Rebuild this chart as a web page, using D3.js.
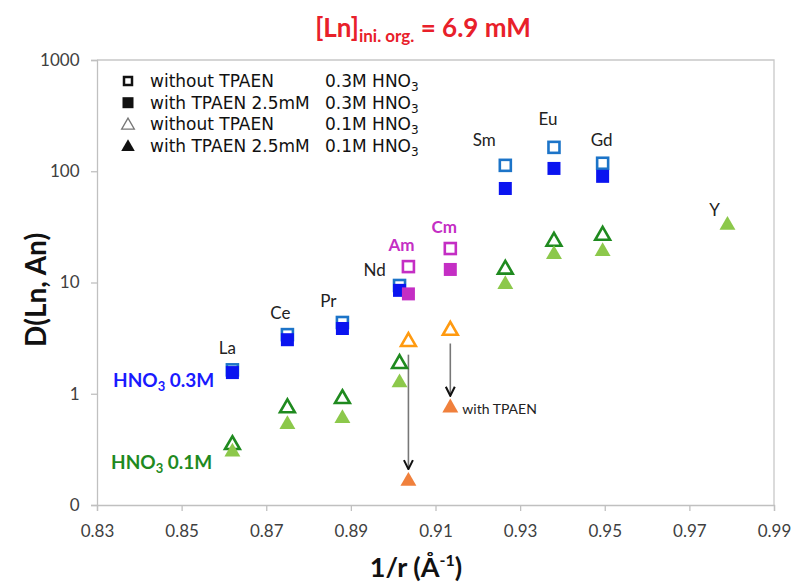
<!DOCTYPE html>
<html>
<head>
<meta charset="utf-8">
<script src="https://cdn.jsdelivr.net/npm/d3@7"></script>
<style>
  body { margin: 0; background: #fff; }
  svg { font-family: Lato, "Open Sans", sans-serif; }
</style>
</head>
<body>
<svg width="794" height="585"></svg>
<script>
// lanthanides
const lnNames = ['La', 'Ce', 'Pr', 'Nd', 'Sm', 'Eu', 'Gd'];
const lnInvR = [0.862, 0.875, 0.888, 0.9015, 0.9265, 0.938, 0.9495];
const lnOpen03 = [1.64, 3.4, 4.37, 9.4, 113, 164, 118];
const lnFill03 = [1.55, 3.06, 3.86, 8.5, 70, 106, 90];
const lnOpen01 = [0.355, 0.76, 0.92, 1.9, 13.4, 23.9, 27];
const lnFill01 = [0.30, 0.53, 0.60, 1.26, 9.6, 17.9, 19];
// yttrium
const yInvR = [0.979];
const yFill01 = [32.7];
// actinides
const anNames = ['Am', 'Cm'];
const anInvR = [0.9036, 0.9135];
const anOpen03 = [13.9, 20.2];
const anFill03 = [7.9, 13.1];
const anOpen01 = [3.0, 3.78];
const anFill01 = [0.164, 0.748];

const xTicks = [0.83, 0.85, 0.87, 0.89, 0.91, 0.93, 0.95, 0.97, 0.99];
const yTicks = [0.1, 1, 10, 100, 1000];

const svg = d3.select('svg');
const pLeft = 97, pRight = 774, pTop = 60, pBottom = 505;

const x = d3.scaleLinear().domain([0.83, 0.99]).range([pLeft, pRight]);
const y = d3.scaleLog().domain([0.1, 1000]).range([pBottom, pTop]);

// frame (top + right)
svg.append('path')
    .attr('d', `M${pLeft},${pTop}H${pRight}V${pBottom}`)
    .attr('fill', 'none')
    .attr('stroke', '#c8c8c8')
    .attr('stroke-width', 1.3);

const xAxis = svg.append('g')
    .attr('transform', `translate(0,${pBottom})`)
    .call(d3.axisBottom(x).tickValues(xTicks).tickSize(6).tickFormat(d3.format('.2f')));
const yAxis = svg.append('g')
    .attr('transform', `translate(${pLeft},0)`)
    .call(d3.axisLeft(y).tickValues(yTicks).tickSize(6)
      .tickFormat(d => d < 1 ? '0' : String(d)));

[xAxis, yAxis].forEach(g => {
  g.select('.domain').attr('stroke', '#c0c0c0').attr('stroke-width', 1.3);
  g.selectAll('.tick line').attr('stroke', '#c0c0c0').attr('stroke-width', 1.3);
  g.selectAll('.tick text').attr('fill', '#404040').style('font-size', '17px')
    .style('font-family', 'Lato, sans-serif');
});
xAxis.selectAll('.tick text').attr('dy', '1.35em');
yAxis.selectAll('.tick text').attr('dx', '-0.5em');

// titles
svg.append('text')
    .attr('x', 423).attr('y', 37)
    .attr('text-anchor', 'middle')
    .attr('fill', '#e8202a')
    .style('font-size', '26px').style('font-weight', 'bold')
    .html('[Ln]<tspan font-size="17" dy="5">ini. org.</tspan><tspan dy="-5"> = 6.9 mM</tspan>');

svg.append('text')
    .attr('transform', 'translate(46,290) rotate(-90)')
    .attr('text-anchor', 'middle')
    .attr('fill', '#111')
    .style('font-size', '28px').style('font-weight', 'bold')
    .text('D(Ln, An)');

svg.append('text')
    .attr('x', 416).attr('y', 577)
    .attr('text-anchor', 'middle')
    .attr('fill', '#111')
    .style('font-size', '27px').style('font-weight', 'bold')
    .html('1/r (Å<tspan font-size="16" dy="-11">-1</tspan><tspan dy="11">)</tspan>');

// marker helpers
const sq = 13, tri = d3.symbol().type(d3.symbolTriangle).size(110);

function openSquares(xs, vs, color) {
  svg.append('g').selectAll('rect').data(xs).join('rect')
      .attr('x', (d, i) => x(d) - sq / 2 + 1)
      .attr('y', (d, i) => y(vs[i]) - sq / 2 + 1)
      .attr('width', sq - 2).attr('height', sq - 2)
      .attr('fill', 'none').attr('stroke', color).attr('stroke-width', 2.6);
}
function fillSquares(xs, vs, color) {
  svg.append('g').selectAll('rect').data(xs).join('rect')
      .attr('x', (d, i) => x(d) - sq / 2)
      .attr('y', (d, i) => y(vs[i]) - sq / 2)
      .attr('width', sq).attr('height', sq)
      .attr('fill', color);
}
function openTris(xs, vs, color) {
  svg.append('g').selectAll('path').data(xs).join('path')
      .attr('d', d3.symbol().type(d3.symbolTriangle).size(95))
      .attr('transform', (d, i) => `translate(${x(d)},${y(vs[i]) + 1})`)
      .attr('fill', 'none').attr('stroke', color).attr('stroke-width', 2.6);
}
function fillTris(xs, vs, color) {
  svg.append('g').selectAll('path').data(xs).join('path')
      .attr('d', tri)
      .attr('transform', (d, i) => `translate(${x(d)},${y(vs[i])})`)
      .attr('fill', color);
}

// arrows open -> filled (actinides, 0.1M)
svg.append('defs').append('marker')
    .attr('id', 'arr').attr('viewBox', '0 0 10 10')
    .attr('refX', 9).attr('refY', 5)
    .attr('markerWidth', 7).attr('markerHeight', 7)
    .attr('orient', 'auto')
  .append('path').attr('d', 'M1,1L9,5L1,9').attr('fill', 'none')
    .attr('stroke', '#111').attr('stroke-width', 1.8);

svg.append('g').selectAll('line').data(anInvR).join('line')
    .attr('x1', d => x(d)).attr('x2', d => x(d))
    .attr('y1', (d, i) => y(anOpen01[i]) + 14)
    .attr('y2', (d, i) => y(anFill01[i]) - 12)
    .attr('stroke', '#777').attr('stroke-width', 1.6)
    .attr('marker-end', 'url(#arr)');

openTris(lnInvR, lnOpen01, '#1f8a1f');
fillTris(lnInvR, lnFill01, '#8cc84b');
fillTris(yInvR, yFill01, '#8cc84b');
openTris(anInvR, anOpen01, '#ff9a10');
fillTris(anInvR, anFill01, '#f0803c');

openSquares(lnInvR, lnOpen03, '#1c74c8');
fillSquares(lnInvR, lnFill03, '#0a14f0');
openSquares(anInvR, anOpen03, '#c42ec4');
fillSquares(anInvR, anFill03, '#c42ec4');

// element labels
const lnLabelDx = [-5, -7, -14, -25, -21, -6, -1];
const lnLabelDy = [-22, -22, -21, -15, -25, -28, -23];
const anLabelDx = [-7, -6];
const anLabelDy = [-22, -22];

svg.append('g').selectAll('text').data(lnNames).join('text')
    .attr('x', (d, i) => x(lnInvR[i]) + lnLabelDx[i])
    .attr('y', (d, i) => y(lnOpen03[i]) + lnLabelDy[i] + 6)
    .attr('text-anchor', 'middle').attr('fill', '#222')
    .style('font-size', '17px').text(d => d);

svg.append('text')
    .attr('x', x(yInvR[0]) - 13).attr('y', y(yFill01[0]) - 9)
    .attr('text-anchor', 'middle').attr('fill', '#222')
    .style('font-size', '17px').text('Y');

svg.append('g').selectAll('text').data(anNames).join('text')
    .attr('x', (d, i) => x(anInvR[i]) + anLabelDx[i])
    .attr('y', (d, i) => y(anOpen03[i]) + anLabelDy[i] + 6)
    .attr('text-anchor', 'middle').attr('fill', '#c42ec4')
    .style('font-size', '17px').style('font-weight', 'bold').text(d => d);

svg.append('text')
    .attr('x', x(anInvR[1]) + 12).attr('y', y(anFill01[1]) + 6)
    .attr('fill', '#222').style('font-size', '14px')
    .text('with TPAEN');

svg.append('text')
    .attr('x', 113).attr('y', 387)
    .attr('fill', '#1a1aff').style('font-size', '19px').style('font-weight', 'bold')
    .html('HNO<tspan font-size="13" dy="4">3</tspan><tspan dy="-4"> 0.3M</tspan>');
svg.append('text')
    .attr('x', 111).attr('y', 469)
    .attr('fill', '#1f8a1f').style('font-size', '19px').style('font-weight', 'bold')
    .html('HNO<tspan font-size="13" dy="4">3</tspan><tspan dy="-4"> 0.1M</tspan>');

// legend
const legendText = ['without TPAEN', 'with TPAEN 2.5mM', 'without TPAEN', 'with TPAEN 2.5mM'];
const legendAcid = ['0.3M', '0.3M', '0.1M', '0.1M'];
const legendType = ['openSq', 'fillSq', 'openTri', 'fillTri'];

const lg = svg.append('g').attr('transform', 'translate(128,81)');
const rows = lg.selectAll('g').data(legendText).join('g')
    .attr('transform', (d, i) => `translate(0,${i * 21.7})`);
rows.each(function(d, i) {
  const g = d3.select(this);
  const t = legendType[i];
  if (t === 'openSq') g.append('rect').attr('x', -4).attr('y', -4).attr('width', 8).attr('height', 8)
      .attr('fill', 'none').attr('stroke', '#111').attr('stroke-width', 2.5);
  if (t === 'fillSq') g.append('rect').attr('x', -5.5).attr('y', -5.5).attr('width', 11).attr('height', 11)
      .attr('fill', '#111');
  if (t === 'openTri') g.append('path').attr('d', d3.symbol().type(d3.symbolTriangle).size(70))
      .attr('transform', 'translate(0,1)').attr('fill', 'none').attr('stroke', '#777').attr('stroke-width', 1.3);
  if (t === 'fillTri') g.append('path').attr('d', d3.symbol().type(d3.symbolTriangle).size(80))
      .attr('transform', 'translate(0,1)').attr('fill', '#111');
});
rows.append('text').attr('x', 22).attr('y', 6)
    .style('font-family', 'Verdana, "DejaVu Sans", sans-serif')
    .attr('fill', '#111').style('font-size', '17px').text(d => d);
rows.append('text').attr('x', 197).attr('y', 6)
    .style('font-family', 'Verdana, "DejaVu Sans", sans-serif')
    .attr('fill', '#111').style('font-size', '17px')
    .html((d, i) => `${legendAcid[i]} HNO<tspan font-size="12" dy="4">3</tspan>`);
</script>
</body>
</html>
